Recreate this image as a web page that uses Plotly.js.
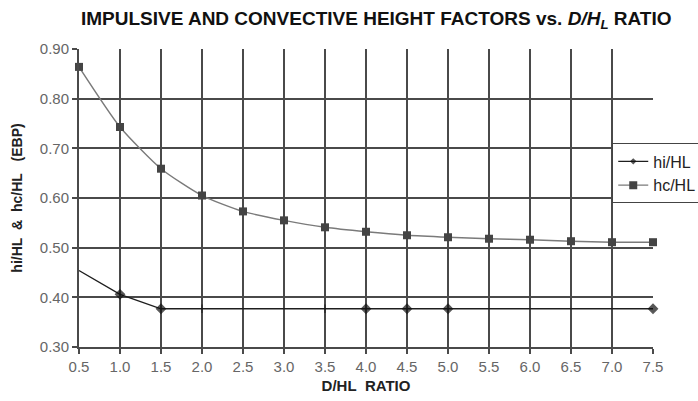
<!DOCTYPE html>
<html>
<head>
<meta charset="utf-8">
<script src="https://cdn.plot.ly/plotly-3.0.1.min.js"></script>
<style>
  html, body { margin: 0; padding: 0; background: #fff; }
  #chart { width: 698px; height: 401px; }
</style>
</head>
<body>
<div id="chart"></div>
<script>
// D/HL ratio values along the horizontal axis
const ratio = [0.5, 1.0, 1.5, 2.0, 2.5, 3.0, 3.5, 4.0, 4.5, 5.0, 5.5, 6.0, 6.5, 7.0, 7.5];

// Impulsive height factor hi/HL
const hiHL = [0.454, 0.406, 0.377, 0.377, 0.377, 0.377, 0.377, 0.377, 0.377, 0.377, 0.377, 0.377, 0.377, 0.377, 0.377];

// Convective height factor hc/HL
const hcHL = [0.864, 0.743, 0.659, 0.605, 0.573, 0.555, 0.541, 0.532, 0.525, 0.521, 0.518, 0.516, 0.513, 0.511, 0.511];

// Which hi/HL points carry a visible marker (two only show a short tick)
const hiMarkerSymbol = ['diamond', 'diamond', 'diamond', 'line-ns-open', 'diamond', 'diamond', 'line-ns-open',
                        'diamond', 'diamond', 'diamond', 'diamond', 'diamond', 'diamond', 'diamond', 'diamond'];
const hiMarkerSize = [0, 7, 7, 6, 0, 0, 6, 7, 7, 7, 0, 0, 0, 0, 7];

const xTicks = [0.5, 1.0, 1.5, 2.0, 2.5, 3.0, 3.5, 4.0, 4.5, 5.0, 5.5, 6.0, 6.5, 7.0, 7.5];
const yTicks = [0.30, 0.40, 0.50, 0.60, 0.70, 0.80, 0.90];

const font = 'Arial, "Liberation Sans", Helvetica, sans-serif';
const gridCol = '#4a4a4a';

const traces = [
  {
    x: ratio, y: hiHL, name: 'hi/HL', legendgroup: 'hi',
    type: 'scatter', mode: 'lines+markers', cliponaxis: false,
    line: { color: '#1e1e1e', width: 1.3 },
    marker: { symbol: hiMarkerSymbol, size: hiMarkerSize, color: '#111', line: { width: 1.2, color: '#111' } }
  },
  {
    x: ratio, y: hcHL, name: 'hc/HL', legendgroup: 'hc',
    type: 'scatter', mode: 'lines+markers', cliponaxis: false,
    line: { color: '#7a7a7a', width: 1.4, shape: 'spline', smoothing: 0.6 },
    marker: { symbol: 'square', size: 8, color: '#444' }
  }
];

const layout = {
  width: 698, height: 401,
  margin: { l: 79, r: 45, t: 49, b: 54, autoexpand: false },
  paper_bgcolor: '#fff', plot_bgcolor: '#fff',
  font: { family: font, color: '#222' },
  title: {
    text: 'IMPULSIVE AND CONVECTIVE HEIGHT FACTORS vs. <i>D/H<sub>L</sub></i> RATIO',
    font: { family: font, size: 19, color: '#111', weight: 'bold' },
    xref: 'container', x: 0.539, xanchor: 'center',
    yref: 'container', y: 0.955, yanchor: 'middle'
  },
  xaxis: {
    range: [0.5, 7.5], tickvals: xTicks, tickformat: '.1f',
    showgrid: true, gridcolor: gridCol, gridwidth: 2,
    showline: true, linecolor: gridCol, linewidth: 2,
    ticks: 'outside', ticklen: 5, tickcolor: gridCol, tickwidth: 2,
    tickfont: { family: font, size: 15, color: '#666' },
    zeroline: false,
    title: { text: 'D/HL\u00a0\u00a0RATIO', font: { family: font, size: 15, color: '#222', weight: 'bold' }, standoff: 6 }
  },
  yaxis: {
    range: [0.30, 0.90], tickvals: yTicks, tickformat: '.2f',
    showgrid: true, gridcolor: gridCol, gridwidth: 2,
    showline: true, linecolor: gridCol, linewidth: 2,
    ticks: 'outside', ticklen: 5, tickcolor: gridCol, tickwidth: 2,
    tickfont: { family: font, size: 15, color: '#666' },
    zeroline: false,
    title: { text: 'hi/HL\u00a0\u00a0&\u00a0\u00a0hc/HL\u00a0\u00a0\u00a0(EBP)', font: { family: font, size: 14, color: '#222', weight: 'bold' }, standoff: 14 }
  },
  showlegend: true,
  legend: {
    x: 0.929, xanchor: 'left', y: 0.683, yanchor: 'top',
    bgcolor: '#fff', bordercolor: '#444', borderwidth: 1,
    font: { family: font, size: 16, color: '#222' },
    traceorder: 'grouped', tracegroupgap: 0
  }
};

Plotly.newPlot('chart', traces, layout, { displayModeBar: false, staticPlot: true });
</script>
</body>
</html>
